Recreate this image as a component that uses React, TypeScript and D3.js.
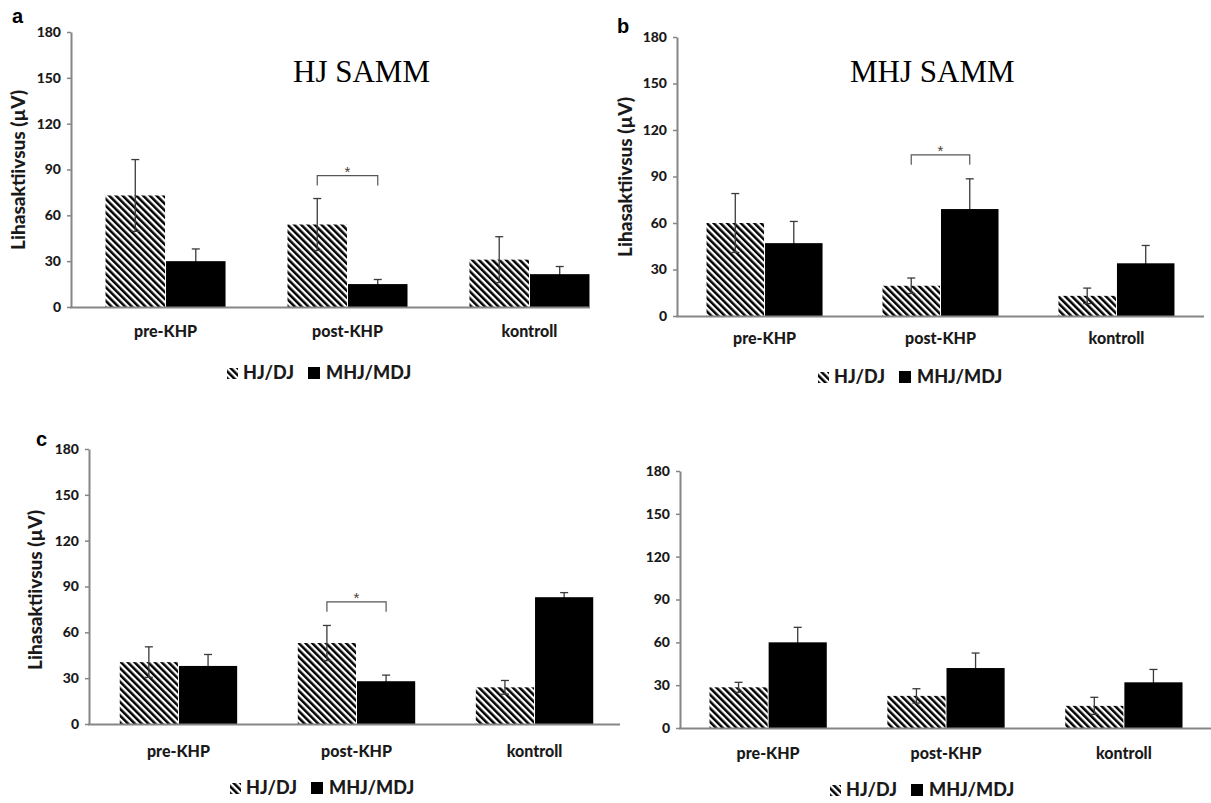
import React, { useEffect, useRef } from 'react';
import * as d3 from 'd3';

const categories = ['pre-KHP', 'post-KHP', 'kontroll'];
const seriesNames = ['HJ/DJ', 'MHJ/MDJ'];
const yTicks = [0, 30, 60, 90, 120, 150, 180];

// a: HJ SAMM
const aHJ = [73, 54, 31];
const aHJErr = [23.5, 17, 15];
const aMHJ = [30, 15, 21.5];
const aMHJErr = [8, 3, 5];
// b: MHJ SAMM
const bHJ = [60, 19.5, 13];
const bHJErr = [19, 5, 5];
const bMHJ = [47, 69, 34];
const bMHJErr = [14, 19.5, 11.5];
// c
const cHJ = [40.5, 53, 24];
const cHJErr = [10, 11.5, 4.5];
const cMHJ = [38, 28, 83];
const cMHJErr = [7.5, 4, 3];
// d
const dHJ = [28.5, 22.5, 15.5];
const dHJErr = [3.5, 5, 6];
const dMHJ = [60, 42, 32];
const dMHJErr = [10.5, 10.5, 9];

// significance brackets: category + bracket height (value units)
const aSig = [{ cat: 'post-KHP', at: 86 }];
const bSig = [{ cat: 'post-KHP', at: 104 }];
const cSig = [{ cat: 'post-KHP', at: 80 }];
const dSig: { cat: string; at: number }[] = [];

const panels = [
  {
    hj: aHJ, hjErr: aHJErr, mhj: aMHJ, mhjErr: aMHJErr, sig: aSig,
    x0: 71, x1: 624, pO: 0.187, axisEnd: 590, yTop: 32, yBase: 307,
    letter: { t: 'a', x: 12, y: 23 }, title: { t: 'HJ SAMM', x: 293, y: 82 },
    ylab: { x: 18, y: 170 }, legend: { x: 227, y: 373 }, catDy: 24,
  },
  {
    hj: bHJ, hjErr: bHJErr, mhj: bMHJ, mhjErr: bMHJErr, sig: bSig,
    x0: 677, x1: 1204, pO: 0.165, axisEnd: 1204, yTop: 37, yBase: 316,
    letter: { t: 'b', x: 617, y: 33 }, title: { t: 'MHJ SAMM', x: 850, y: 82 },
    ylab: { x: 625, y: 177 }, legend: { x: 818, y: 377 }, catDy: 22,
  },
  {
    hj: cHJ, hjErr: cHJErr, mhj: cMHJ, mhjErr: cMHJErr, sig: cSig,
    x0: 89, x1: 624, pO: 0.17, axisEnd: 620, yTop: 449, yBase: 724,
    letter: { t: 'c', x: 36, y: 446 }, title: null,
    ylab: { x: 35, y: 590 }, legend: { x: 230, y: 788 }, catDy: 27,
  },
  {
    hj: dHJ, hjErr: dHJErr, mhj: dMHJ, mhjErr: dMHJErr, sig: dSig,
    x0: 680, x1: 1212, pO: 0.163, axisEnd: 1211, yTop: 471, yBase: 728,
    letter: null, title: null,
    ylab: null, legend: { x: 830, y: 790 }, catDy: 25,
  },
];

const W = 1211;
const H = 803;
const sans = 'Lato, "Open Sans", sans-serif';
const axisColor = '#868686';
const textColor = '#1a1a1a';

const App: React.FC = () => {
  const svgRef = useRef<SVGSVGElement>(null);

  useEffect(() => {
    const svg = d3.select(svgRef.current);
    svg.selectAll('*').remove();

    const defs = svg.append('defs');
    const pat = defs.append('pattern')
      .attr('id', 'hatch')
      .attr('patternUnits', 'userSpaceOnUse')
      .attr('width', 4.8)
      .attr('height', 4.8)
      .attr('patternTransform', 'rotate(-45)');
    pat.append('rect').attr('width', 4.8).attr('height', 4.8).attr('fill', '#fff');
    pat.append('rect').attr('width', 2.5).attr('height', 4.8).attr('fill', '#000');

    panels.forEach(p => {
      const g = svg.append('g');

      const x = d3.scaleBand<string>()
        .domain(categories)
        .range([p.x0, p.x1])
        .paddingInner(0.335)
        .paddingOuter(p.pO);

      const xs = d3.scaleBand<string>()
        .domain(seriesNames)
        .range([0, x.bandwidth()]);

      const y = d3.scaleLinear()
        .domain([0, 180])
        .range([p.yBase, p.yTop]);

      const series = [
        { name: seriesNames[0], vals: p.hj, errs: p.hjErr, fill: 'url(#hatch)' },
        { name: seriesNames[1], vals: p.mhj, errs: p.mhjErr, fill: '#000' },
      ];

      const drawErr = (s: typeof series[number]) => {
        categories.forEach((c, i) => {
          const cx = (x(c) || 0) + (xs(s.name) || 0) + xs.bandwidth() / 2;
          const hi = y(s.vals[i] + s.errs[i]);
          const lo = y(s.vals[i] - s.errs[i]);
          const eg = g.append('g').attr('stroke', '#3a3a3a').attr('stroke-width', 1.3);
          eg.append('line').attr('x1', cx).attr('x2', cx).attr('y1', hi).attr('y2', lo);
          eg.append('line').attr('x1', cx - 4).attr('x2', cx + 4).attr('y1', hi).attr('y2', hi);
          eg.append('line').attr('x1', cx - 4).attr('x2', cx + 4).attr('y1', lo).attr('y2', lo);
        });
      };

      // solid series' error bars sit behind its bars
      drawErr(series[1]);

      // Bars
      series.forEach(s => {
        g.selectAll(null)
          .data(categories)
          .enter()
          .append('rect')
          .attr('x', c => (x(c) || 0) + (xs(s.name) || 0) + 0.5)
          .attr('y', (c, i) => y(s.vals[i]))
          .attr('width', xs.bandwidth() - 1)
          .attr('height', (c, i) => p.yBase - y(s.vals[i]))
          .attr('fill', s.fill);
      });

      drawErr(series[0]);

      // Y axis
      const yAxis = g.append('g')
        .attr('transform', `translate(${p.x0},0)`)
        .call(d3.axisLeft(y).tickValues(yTicks).tickSize(4).tickSizeOuter(0).tickPadding(6));
      yAxis.select('.domain').attr('stroke', axisColor).attr('stroke-width', 2);
      yAxis.selectAll('.tick line').attr('stroke', axisColor).attr('stroke-width', 1.5);
      yAxis.selectAll('.tick text')
        .style('font-family', sans)
        .style('font-weight', 900)
        .style('font-size', '14px')
        .style('fill', textColor);

      // X axis line
      g.append('line')
        .attr('x1', p.x0 - 1)
        .attr('x2', p.axisEnd)
        .attr('y1', p.yBase + 0.5)
        .attr('y2', p.yBase + 0.5)
        .attr('stroke', axisColor)
        .attr('stroke-width', 2);

      // Category labels
      g.selectAll(null)
        .data(categories)
        .enter()
        .append('text')
        .attr('x', c => (x(c) || 0) + x.bandwidth() / 2)
        .attr('y', p.yBase + p.catDy)
        .attr('dy', '0.35em')
        .attr('text-anchor', 'middle')
        .style('font-family', sans)
        .style('font-weight', 900)
        .style('font-size', '16px')
        .style('fill', textColor)
        .text(c => c);

      // Significance bracket
      p.sig.forEach(sg => {
        const xa = (x(sg.cat) || 0) + (xs(seriesNames[0]) || 0) + xs.bandwidth() / 2;
        const xb = (x(sg.cat) || 0) + (xs(seriesNames[1]) || 0) + xs.bandwidth() / 2;
        const yy = y(sg.at);
        g.append('path')
          .attr('d', `M${xa},${yy + 10}V${yy}H${xb}V${yy + 10}`)
          .attr('fill', 'none')
          .attr('stroke', '#555')
          .attr('stroke-width', 1.2);
        g.append('text')
          .attr('x', (xa + xb) / 2)
          .attr('y', yy + 1)
          .attr('text-anchor', 'middle')
          .style('font-family', '"Liberation Sans", Arial, sans-serif')
          .style('font-size', '15px')
          .style('fill', '#4a3a30')
          .text('*');
      });

      // Y label
      if (p.ylab) {
        g.append('text')
          .attr('transform', `translate(${p.ylab.x},${p.ylab.y}) rotate(-90)`)
          .attr('dy', '0.35em')
          .attr('text-anchor', 'middle')
          .style('font-family', sans)
          .style('font-weight', 900)
          .style('font-size', '19px')
          .style('fill', textColor)
          .text('Lihasaktiivsus (µV)');
      }

      // Panel letter
      if (p.letter) {
        g.append('text')
          .attr('x', p.letter.x)
          .attr('y', p.letter.y)
          .style('font-family', '"Liberation Sans", Arial, sans-serif')
          .style('font-weight', 700)
          .style('font-size', '20px')
          .style('fill', '#000')
          .text(p.letter.t);
      }

      // Title
      if (p.title) {
        g.append('text')
          .attr('x', p.title.x)
          .attr('y', p.title.y)
          .style('font-family', '"Liberation Serif", "Times New Roman", serif')
          .style('font-size', '31px')
          .style('fill', '#000')
          .text(p.title.t);
      }

      // Legend
      const lg = g.append('g').attr('transform', `translate(${p.legend.x},${p.legend.y})`);
      lg.append('rect').attr('x', 0).attr('y', -5).attr('width', 11).attr('height', 11).attr('fill', 'url(#hatch)');
      lg.append('text')
        .attr('x', 16).attr('y', 0).attr('dy', '0.35em')
        .style('font-family', sans).style('font-weight', 900).style('font-size', '18px')
        .style('fill', textColor)
        .text(seriesNames[0]);
      lg.append('rect').attr('x', 81).attr('y', -6).attr('width', 12).attr('height', 12).attr('fill', '#000');
      lg.append('text')
        .attr('x', 99).attr('y', 0).attr('dy', '0.35em')
        .style('font-family', sans).style('font-weight', 900).style('font-size', '18px')
        .style('fill', textColor)
        .text(seriesNames[1]);
    });
  }, []);

  return (
    <div style={{ position: 'absolute', left: 0, top: 0, background: '#fff' }}>
      <svg ref={svgRef} width={W} height={H} style={{ display: 'block' }} />
    </div>
  );
};

export default App;
